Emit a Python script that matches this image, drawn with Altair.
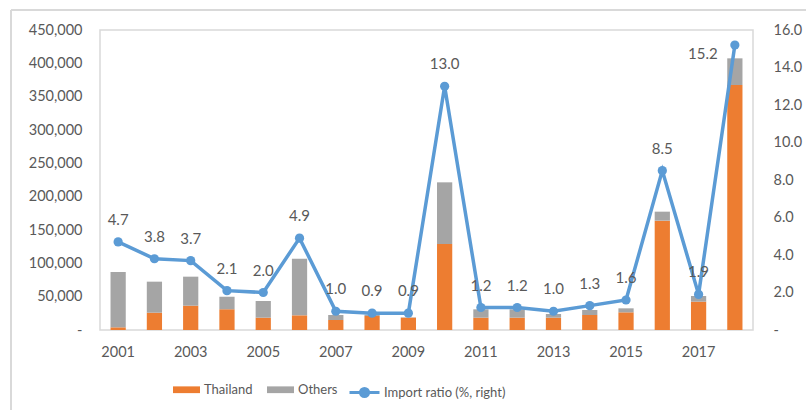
import altair as alt
import pandas as pd

# Imports by origin (left axis) and import ratio (right axis), 2001-2018
years = [str(y) for y in range(2001, 2019)]
thailand = [4000, 26000, 36500, 31000, 18500, 22000, 15000, 21000, 18500,
            129000, 18500, 18500, 18500, 22500, 26500, 164000, 42500, 367500]
others = [83000, 46500, 43500, 19000, 25000, 85000, 7500, 2000, 500,
          92500, 12500, 12500, 5500, 7500, 6000, 13500, 8500, 40000]
ratio = [4.7, 3.8, 3.7, 2.1, 2.0, 4.9, 1.0, 0.9, 0.9,
         13.0, 1.2, 1.2, 1.0, 1.3, 1.6, 8.5, 1.9, 15.2]

series_names = ["Thailand", "Others"]
series_colors = ["#ED7D31", "#A5A5A5"]
line_name = "Import ratio (%, right)"
line_color = "#5B9BD5"
text_color = "#595959"
font = "Lato"

bars_df = pd.DataFrame(
    [{"year": y, "series": "Thailand", "value": t, "order": 0} for y, t in zip(years, thailand)]
    + [{"year": y, "series": "Others", "value": o, "order": 1} for y, o in zip(years, others)]
)
line_df = pd.DataFrame({"year": years, "ratio": ratio, "name": line_name})

x_enc = alt.X(
    "year:N",
    title=None,
    scale=alt.Scale(paddingInner=0.58, paddingOuter=0.29),
    axis=alt.Axis(values=years[::2], labelAngle=0, ticks=False, domain=False,
                  labelPadding=15, labelFontSize=14.5, labelColor=text_color,
                  labelFont=font),
)

bars = alt.Chart(bars_df).mark_bar().encode(
    x=x_enc,
    y=alt.Y(
        "value:Q",
        title=None,
        stack="zero",
        scale=alt.Scale(domain=[0, 450000], nice=False),
        axis=alt.Axis(values=list(range(0, 450001, 50000)), grid=False, ticks=False,
                      domain=False, labelPadding=18, labelFontSize=14.5,
                      labelColor=text_color, labelFont=font, labelOverlap=False,
                      labelExpr="datum.value == 0 ? '-' : format(datum.value, ',')"),
    ),
    color=alt.Color(
        "series:N",
        scale=alt.Scale(domain=series_names, range=series_colors),
        legend=alt.Legend(
            title=None, orient="none", direction="horizontal",
            legendX=73, legendY=346,
            symbolType="M-1,-0.25H1V0.25H-1Z", symbolSize=729,
            symbolStrokeWidth=0, labelOffset=4, columnPadding=14,
            labelFontSize=13, labelColor=text_color, labelFont=font,
        ),
    ),
    order=alt.Order("order:Q", sort="ascending"),
)

# Right-hand axis shared by every layer of the ratio series
y_right = alt.Y(
    "ratio:Q",
    title=None,
    scale=alt.Scale(domain=[0, 16], nice=False),
    axis=alt.Axis(orient="right", values=list(range(0, 17, 2)), grid=False, ticks=False,
                  domain=False, labelPadding=20, labelFontSize=14.5,
                  labelColor=text_color, labelFont=font, labelOverlap=False,
                  labelExpr="datum.value == 0 ? '-' : format(datum.value, '.1f')"),
)

line = alt.Chart(line_df).mark_line(strokeWidth=3.5).encode(
    x=alt.X("year:N"),
    y=y_right,
    stroke=alt.Stroke(
        "name:N",
        scale=alt.Scale(domain=[line_name], range=[line_color]),
        legend=alt.Legend(
            title=None, orient="none", direction="horizontal",
            legendX=248, legendY=346,
            symbolType="M-1,0H1M0.27,0A0.27,0.27 0 1,1 -0.27,0A0.27,0.27 0 1,1 0.27,0",
            symbolSize=900, symbolStrokeWidth=3, symbolFillColor=line_color,
            labelOffset=3, labelFontSize=13, labelColor=text_color, labelFont=font,
        ),
    ),
)

points = alt.Chart(line_df).mark_circle(size=85, opacity=1, color=line_color).encode(
    x=alt.X("year:N"),
    y=y_right,
)

labels = alt.Chart(line_df).transform_filter(
    "datum.year != '2018'"
).mark_text(dy=-22, fontSize=15, color=text_color, font=font).encode(
    x=alt.X("year:N"),
    y=y_right,
    text=alt.Text("ratio:Q", format=".1f"),
)

last_label = alt.Chart(line_df).transform_filter(
    "datum.year == '2018'"
).mark_text(dx=-32, dy=9, fontSize=15, color=text_color, font=font).encode(
    x=alt.X("year:N"),
    y=y_right,
    text=alt.Text("ratio:Q", format=".1f"),
)

# Light outer frame around the figure
frame_left = alt.Chart(line_df).mark_rule(color="#D9D9D9", strokeWidth=1.5).encode(
    x=alt.value(-89), y=alt.value(-20), y2=alt.value(380)
)
frame_top = alt.Chart(line_df).mark_rule(color="#D9D9D9", strokeWidth=1.5).encode(
    x=alt.value(-89), x2=alt.value(706), y=alt.value(-20)
)

right_layer = alt.layer(line, points, labels, last_label)

chart = alt.layer(bars, right_layer, frame_left, frame_top).resolve_scale(
    y="independent", color="independent", stroke="independent"
).properties(
    width=653,
    height=300,
    padding={"left": 100, "top": 30, "right": 53, "bottom": 80},
    autosize=alt.AutoSizeParams(type="none"),
    background="white",
).configure_view(
    stroke="#D9D9D9", strokeWidth=1.5
)

chart.save("out.html", embed_options={"renderer": "svg", "actions": False})
